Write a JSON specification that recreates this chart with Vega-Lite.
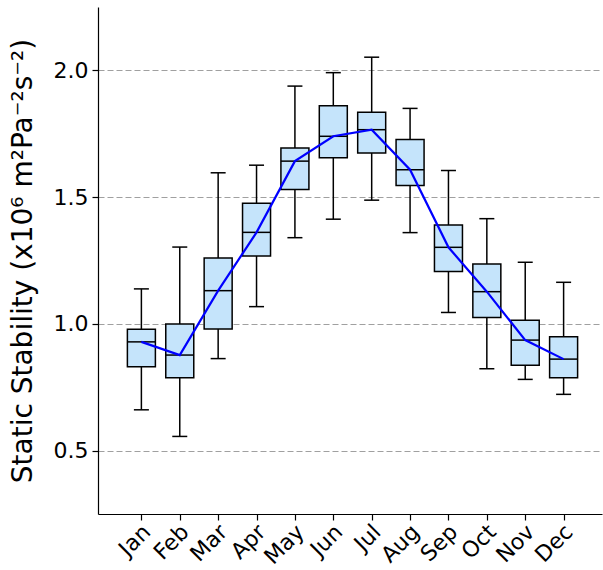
{
  "$schema": "https://vega.github.io/schema/vega-lite/v6.json",
  "width": 504,
  "height": 507,
  "autosize": {"type": "none"},
  "padding": {"left": 98, "top": 7, "right": 1, "bottom": 56},
  "background": "white",
  "config": {
    "view": {"stroke": null},
    "font": "DejaVu Sans",
    "axis": {"labelFont": "DejaVu Sans", "titleFont": "DejaVu Sans", "labelColor": "#000", "titleColor": "#000", "domainColor": "#000", "tickColor": "#000", "domainWidth": 1.2, "tickWidth": 1.2}
  },
  "data": {
    "values": [
      {"m": 1, "lo": 0.661, "q1": 0.831, "med": 0.929, "q3": 0.979, "hi": 1.138},
      {"m": 2, "lo": 0.556, "q1": 0.787, "med": 0.877, "q3": 1.0, "hi": 1.303},
      {"m": 3, "lo": 0.863, "q1": 0.98, "med": 1.131, "q3": 1.26, "hi": 1.596},
      {"m": 4, "lo": 1.068, "q1": 1.268, "med": 1.361, "q3": 1.476, "hi": 1.626},
      {"m": 5, "lo": 1.34, "q1": 1.53, "med": 1.642, "q3": 1.694, "hi": 1.938},
      {"m": 6, "lo": 1.413, "q1": 1.655, "med": 1.74, "q3": 1.86, "hi": 1.991},
      {"m": 7, "lo": 1.488, "q1": 1.674, "med": 1.766, "q3": 1.835, "hi": 2.052},
      {"m": 8, "lo": 1.36, "q1": 1.546, "med": 1.608, "q3": 1.727, "hi": 1.85},
      {"m": 9, "lo": 1.045, "q1": 1.207, "med": 1.302, "q3": 1.39, "hi": 1.605},
      {"m": 10, "lo": 0.823, "q1": 1.025, "med": 1.127, "q3": 1.236, "hi": 1.415},
      {"m": 11, "lo": 0.781, "q1": 0.837, "med": 0.936, "q3": 1.014, "hi": 1.243},
      {"m": 12, "lo": 0.722, "q1": 0.787, "med": 0.861, "q3": 0.949, "hi": 1.164}
    ]
  },
  "encoding": {
    "x": {
      "field": "m",
      "type": "quantitative",
      "scale": {"domain": [0, 12.87], "nice": false, "zero": false},
      "axis": {
        "title": null,
        "values": [1, 2, 3, 4, 5, 6, 7, 8, 9, 10, 11, 12],
        "grid": false,
        "labelExpr": "['Jan','Feb','Mar','Apr','May','Jun','Jul','Aug','Sep','Oct','Nov','Dec'][datum.value - 1]",
        "labelAngle": -45,
        "labelAlign": "right",
        "labelBaseline": "middle",
        "labelOffset": 5,
        "labelPadding": 8,
        "labelFontSize": 22,
        "tickSize": 6,
        "labelFlush": false,
        "labelOverlap": false
      }
    }
  },
  "layer": [
    {
      "mark": {"type": "rule", "color": "#000", "strokeWidth": 1.5},
      "encoding": {
        "y": {
          "field": "lo",
          "type": "quantitative",
          "scale": {"domain": [0.25, 2.25], "nice": false, "zero": false},
          "axis": {
            "title": "Static Stability (x10⁶ m²Pa⁻²s⁻²)",
            "titleFontSize": 28,
            "titleFontWeight": "normal",
            "titlePadding": 16,
            "values": [0.5, 1.0, 1.5, 2.0],
            "format": ".1f",
            "labelFontSize": 22,
            "tickSize": 6,
            "labelPadding": 4,
            "grid": true,
            "gridColor": "#a0a0a0",
            "gridDash": [6, 3],
            "gridWidth": 1.2
          }
        },
        "y2": {"field": "hi"}
      }
    },
    {
      "mark": {"type": "tick", "orient": "horizontal", "color": "#000", "size": 15, "thickness": 1.5, "opacity": 1},
      "encoding": {"y": {"field": "lo", "type": "quantitative"}}
    },
    {
      "mark": {"type": "tick", "orient": "horizontal", "color": "#000", "size": 15, "thickness": 1.5, "opacity": 1},
      "encoding": {"y": {"field": "hi", "type": "quantitative"}}
    },
    {
      "mark": {"type": "bar", "size": 28, "fill": "#c5e4fb", "stroke": "#000", "strokeWidth": 1.5, "opacity": 1},
      "encoding": {"y": {"field": "q1", "type": "quantitative"}, "y2": {"field": "q3"}}
    },
    {
      "mark": {"type": "tick", "orient": "horizontal", "color": "#000", "size": 28, "thickness": 1.5, "opacity": 1},
      "encoding": {"y": {"field": "med", "type": "quantitative"}}
    },
    {
      "mark": {"type": "line", "color": "#0000ff", "strokeWidth": 2.2},
      "encoding": {"y": {"field": "med", "type": "quantitative"}}
    }
  ]
}
